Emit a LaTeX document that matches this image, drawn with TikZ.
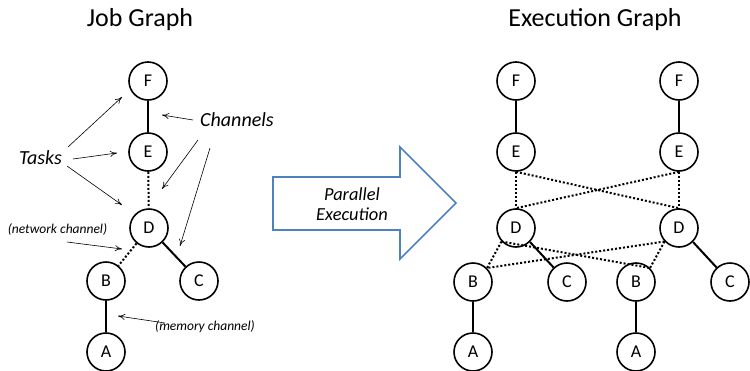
\documentclass[tikz,border=0pt]{standalone}
\usepackage{fontspec}
\setmainfont{Carlito}
\usetikzlibrary{arrows.meta}
\begin{document}
\begin{tikzpicture}[x=1pt,y=-1pt,
  task/.style={circle,draw,line width=1.6pt,minimum size=38pt,inner sep=0pt,font=\fontsize{18}{18}\selectfont},
  chan/.style={line width=2pt},
  netchan/.style={line width=2pt,dotted},
  note/.style={-{To[length=7pt,width=6pt]},line width=0.6pt},
  lbl/.style={font=\fontsize{20}{20}\selectfont\itshape},
  small/.style={font=\fontsize{13.5}{14}\selectfont\itshape},
  title/.style={font=\fontsize{26}{26}\selectfont,anchor=base}]
\useasboundingbox (0,0) rectangle (750,370);

% titles
\node[title] (t1) at (140,26) {Job Graph};
\node[title] (t2) at (595,26) {Execution Graph};

% job graph
\node[task] (F) at (148,81) {F};
\node[task] (E) at (148,152) {E};
\node[task] (D) at (149,228) {D};
\node[task] (B) at (106,281) {B};
\node[task] (C) at (199,281) {C};
\node[task] (A) at (106,352) {A};
\draw[chan] (F) -- (E);
\draw[netchan] (E) -- (D);
\draw[netchan] (D) -- (B);
\draw[chan] (D) -- (C);
\draw[chan] (B) -- (A);

% annotations
\node[lbl] (tasks) at (40.5,158) {Tasks};
\node[lbl] (chans) at (237,120) {Channels};
\node[small] (net) at (57.5,229) {(network channel)};
\node[small] (mem) at (205,327) {(memory channel)};
\coordinate (ta1) at (122,97);
\coordinate (ta2) at (117,153);
\coordinate (ta3) at (122,205);
\coordinate (ca1) at (162,115);
\coordinate (ca2) at (162,189);
\coordinate (ca3) at (180,246);
\coordinate (na) at (122,249);
\coordinate (ma) at (118,316);
\draw[note] (68,147) -- (ta1);
\draw[note] (73,159) -- (ta2);
\draw[note] (67,166) -- (ta3);
\draw[note] (193,120) -- (ca1);
\draw[note] (198,140) -- (ca2);
\draw[note] (210,148) -- (ca3);
\draw[note] (67,242) -- (na);
\draw[note] (165,323) -- (ma);

% big arrow
\draw[line width=1.6pt,draw={rgb,255:red,79;green,129;blue,189},line join=miter]
  (273,177) -- (400,177) -- (400,147) -- (456,203) -- (400,259) -- (400,230) -- (273,230) -- cycle;
\node[align=center,font=\fontsize{18.4}{20}\selectfont\itshape] (par) at (352,204) {Parallel\\Execution};

% execution graph, first instance
\node[task] (F1) at (516,81) {F};
\node[task] (E1) at (516,152) {E};
\node[task] (D1) at (516,228) {D};
\node[task] (B1) at (473,282) {B};
\node[task] (C1) at (567,282) {C};
\node[task] (A1) at (473,352) {A};
% second instance
\node[task] (F2) at (679,81) {F};
\node[task] (E2) at (679,152) {E};
\node[task] (D2) at (679,228) {D};
\node[task] (B2) at (636,282) {B};
\node[task] (C2) at (730,282) {C};
\node[task] (A2) at (636,352) {A};

\foreach \i in {1,2} {
  \draw[chan] (F\i) -- (E\i);
  \draw[chan] (D\i.-45) -- (C\i);
  \draw[chan] (B\i) -- (A\i);
}
\foreach \i in {1,2} \foreach \j in {1,2} {
  \draw[netchan] (E\i.south) -- (D\j.north);
  \draw[netchan] (D\i.-137) -- (B\j.45);
}
\end{tikzpicture}
\end{document}
